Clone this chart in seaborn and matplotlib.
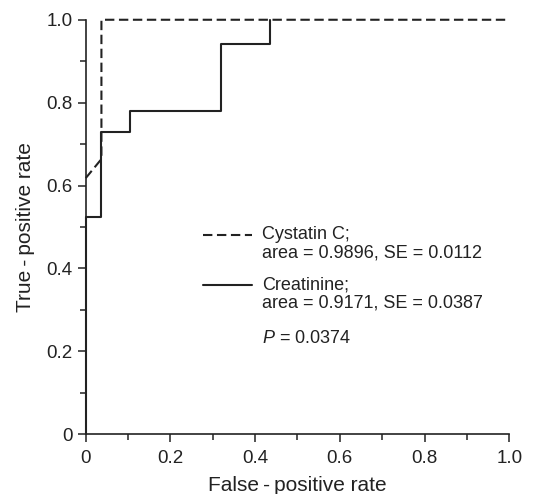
import numpy as np
import pandas as pd
import matplotlib
matplotlib.use('Agg')
import matplotlib.pyplot as plt
import seaborn as sns

# ROC points
cys_fpr = [0.0, 0.037, 0.037, 1.0]
cys_tpr = [0.618, 0.664, 1.0, 1.0]

crea_fpr = [0.0, 0.0, 0.037, 0.037, 0.104, 0.104, 0.32, 0.32, 0.435, 0.435]
crea_tpr = [0.0, 0.523, 0.523, 0.728, 0.728, 0.781, 0.781, 0.941, 0.941, 1.0]

cys_label = ['Cystatin C;', 'area = 0.9896, SE = 0.0112']
crea_label = ['Creatinine;', 'area = 0.9171, SE = 0.0387']
p_value = '0.0374'

ticks = [0, 0.2, 0.4, 0.6, 0.8, 1.0]
tick_labels = ['0', '0.2', '0.4', '0.6', '0.8', '1.0']

sns.set_style('ticks')
plt.rcParams['font.family'] = ['Liberation Sans', 'DejaVu Sans']
plt.rcParams['mathtext.fontset'] = 'custom'
plt.rcParams['mathtext.it'] = 'Liberation Sans:italic'

ink = '#222222'
fs = 13

fig = plt.figure(figsize=(5.36, 4.94), dpi=100)
ax = fig.add_axes([0.160, 0.121, 0.790, 0.839])

cys = pd.DataFrame({'fpr': cys_fpr, 'tpr': cys_tpr})
crea = pd.DataFrame({'fpr': crea_fpr, 'tpr': crea_tpr})

sns.lineplot(data=crea, x='fpr', y='tpr', sort=False, estimator=None,
             color=ink, lw=1.5, ax=ax, clip_on=False)
sns.lineplot(data=cys, x='fpr', y='tpr', sort=False, estimator=None,
             color=ink, lw=1.5, ax=ax, clip_on=False, dashes=False)
ax.lines[-1].set_dashes((4.5, 2.2))

ax.set_xlim(0, 1)
ax.set_ylim(0, 1)
ax.set_xticks(ticks)
ax.set_xticklabels(tick_labels)
ax.set_yticks(ticks)
ax.set_yticklabels(tick_labels)
ax.set_xticks(np.arange(0.1, 1.0, 0.2), minor=True)
ax.set_yticks(np.arange(0.1, 1.0, 0.2), minor=True)
ax.tick_params(which='major', length=5.5, width=1.1, color=ink,
               labelsize=13.5, labelcolor=ink, pad=4)
ax.tick_params(axis='x', which='major', pad=5.5)
ax.tick_params(which='minor', length=4, width=1.1, color=ink)
for s in ['top', 'right']:
    ax.spines[s].set_visible(False)
for s in ['left', 'bottom']:
    ax.spines[s].set_linewidth(1.2)
    ax.spines[s].set_color(ink)

ax.set_xlabel('False\u2009-\u2009positive rate', fontsize=15, color=ink, labelpad=6.5)
ax.set_ylabel('True\u2009-\u2009positive rate', fontsize=15, color=ink, labelpad=8)

# hand-made legend
tr = ax.transAxes
ax.plot([0.277, 0.392], [0.481, 0.481], transform=tr, color=ink, lw=1.5,
        dashes=(4.5, 2.2))
ax.plot([0.277, 0.392], [0.360, 0.360], transform=tr, color=ink, lw=1.5)
tx = 0.416
ax.text(tx, 0.481, cys_label[0], transform=tr, fontsize=fs, color=ink, va='center')
ax.text(tx, 0.437, cys_label[1], transform=tr, fontsize=fs, color=ink, va='center')
ax.text(tx, 0.360, crea_label[0], transform=tr, fontsize=fs, color=ink, va='center')
ax.text(tx, 0.316, crea_label[1], transform=tr, fontsize=fs, color=ink, va='center')
ax.text(tx, 0.232, '$P$ = ' + p_value, transform=tr, fontsize=fs, color=ink, va='center')

fig.savefig('out.png', dpi=100)
